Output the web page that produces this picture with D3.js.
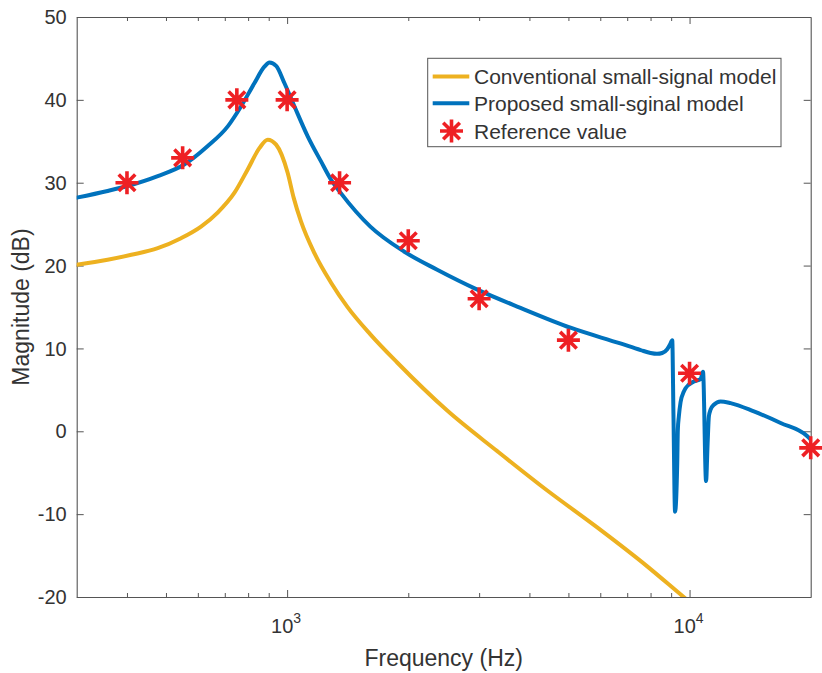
<!DOCTYPE html>
<html>
<head>
<meta charset="utf-8">
<script src="https://cdn.jsdelivr.net/npm/d3@7"></script>
<style>
  html, body { margin: 0; padding: 0; background: #fff; }
  svg { display: block; }
  text { font-family: "Liberation Sans", Arial, Helvetica, sans-serif; fill: #333; }
</style>
</head>
<body>
<svg id="chart" width="822" height="673"></svg>
<script>
// Conventional small-signal model: frequency (Hz) and magnitude (dB)
const convFreq = [300, 358, 410, 477, 545, 611, 672, 740, 798, 854, 895, 939, 1003, 1038, 1083, 1169, 1287, 1410, 1610, 1877, 2499, 3328, 4430, 5895, 7849, 9639, 10650];
const convMag  = [20.1, 20.7, 21.3, 22.1, 23.3, 24.7, 26.4, 28.8, 31.6, 34.2, 35.2, 34.6, 31.2, 28.2, 25.3, 21.5, 17.9, 15.05, 11.7, 8.3, 2.5, -2.4, -7.15, -11.6, -16.3, -19.95, -21.7];

// Proposed small-signal model
const propFreq = [300, 358, 401, 477, 555, 634, 712, 768, 829, 878, 904, 939, 985, 1043, 1125, 1213, 1288, 1357, 1610, 1951, 2360, 2969, 3800, 5060, 6730, 7560, 8000, 8300, 8550, 8800, 8950, 9057, 9120, 9204, 9320, 9352, 9406, 9498, 9679, 9773, 10250, 10650, 10800, 10990, 11088, 11170, 11276, 11490, 11940, 12645, 14450, 16840, 19620, 20000];
const propMag  = [28.2, 29.0, 29.6, 30.8, 32.2, 34.4, 36.8, 39.2, 42.0, 44.0, 44.5, 44.1, 42.0, 39.2, 35.6, 32.6, 30.3, 28.8, 24.7, 21.7, 19.5, 17.1, 14.9, 12.5, 10.6, 9.8, 9.45, 9.35, 9.45, 9.9, 10.5, 11.0, 2.0, -9.7, -3.8, 0.2, 1.8, 3.5, 4.8, 5.2, 6.0, 6.3, 7.2, -6.0, -1.5, 1.8, 2.6, 3.2, 3.6, 3.4, 2.4, 1.0, -0.6, -1.0];

// Reference (measured) values
const refFreq = [400, 550, 750, 1000, 1350, 2000, 3000, 5000, 10000, 20000];
const refMag  = [30, 33, 40, 40, 30, 23, 16, 11, 7, -2];

// Axis ticks
const yTicks = [-20, -10, 0, 10, 20, 30, 40, 50];
const xMajorTicks = [1000, 10000];
const xMajorLabels = ["3", "4"];
const xMinorTicks = [400, 500, 600, 700, 800, 900, 2000, 3000, 4000, 5000, 6000, 7000, 8000, 9000];

const seriesNames = ["Conventional small-signal model", "Proposed small-sginal model", "Reference value"];
const colors = { conv: "#EDB120", prop: "#0072BD", ref: "#EE2024", axis: "#555" };

const W = 822, H = 673;
const plot = { left: 76.7, top: 17, right: 810.7, bottom: 597 };

const svg = d3.select("#chart");

const x = d3.scaleLog().domain([300, 20000]).range([plot.left, plot.right]);
const y = d3.scaleLinear().domain([-20, 50]).range([plot.bottom, plot.top]);

svg.append("defs").append("clipPath").attr("id", "plotClip")
  .append("rect")
  .attr("x", plot.left).attr("y", plot.top)
  .attr("width", plot.right - plot.left).attr("height", plot.bottom - plot.top);

// Axes box with inward ticks (bottom/top and left/right)
const axisG = svg.append("g");
const majorLen = 7, minorLen = 4;

const bottomAxis = d3.axisBottom(x).tickValues(xMajorTicks).tickSizeInner(-majorLen).tickSizeOuter(0).tickFormat("");
const topAxis = d3.axisTop(x).tickValues(xMajorTicks).tickSizeInner(-majorLen).tickSizeOuter(0).tickFormat("");
const bottomMinor = d3.axisBottom(x).tickValues(xMinorTicks).tickSizeInner(-minorLen).tickSizeOuter(0).tickFormat("");
const topMinor = d3.axisTop(x).tickValues(xMinorTicks).tickSizeInner(-minorLen).tickSizeOuter(0).tickFormat("");
const leftAxis = d3.axisLeft(y).tickValues(yTicks).tickSizeInner(-majorLen).tickSizeOuter(0).tickFormat("");
const rightAxis = d3.axisRight(y).tickValues(yTicks).tickSizeInner(-majorLen).tickSizeOuter(0).tickFormat("");

axisG.append("g").attr("transform", `translate(0,${plot.bottom})`).call(bottomAxis);
axisG.append("g").attr("transform", `translate(0,${plot.bottom})`).call(bottomMinor);
axisG.append("g").attr("transform", `translate(0,${plot.top})`).call(topAxis);
axisG.append("g").attr("transform", `translate(0,${plot.top})`).call(topMinor);
axisG.append("g").attr("transform", `translate(${plot.left},0)`).call(leftAxis);
axisG.append("g").attr("transform", `translate(${plot.right},0)`).call(rightAxis);
axisG.selectAll("path.domain").attr("stroke", colors.axis).attr("stroke-width", 1.1);
axisG.selectAll(".tick line").attr("stroke", colors.axis).attr("stroke-width", 1);

// Tick labels
svg.append("g").selectAll("text.ylab").data(yTicks).join("text")
  .attr("x", plot.left - 10)
  .attr("y", d => y(d))
  .attr("dy", "0.36em")
  .attr("text-anchor", "end")
  .attr("font-size", 20)
  .text(d => d);

const xl = svg.append("g").selectAll("text.xlab").data(xMajorTicks).join("text")
  .attr("x", d => x(d) - 1)
  .attr("y", 633)
  .attr("text-anchor", "middle")
  .attr("font-size", 20);
xl.append("tspan").text("10");
xl.append("tspan").attr("dy", -10).attr("font-size", 14).text((d, i) => xMajorLabels[i]);

// Axis titles
svg.append("text")
  .attr("x", (plot.left + plot.right) / 2)
  .attr("y", 666)
  .attr("text-anchor", "middle")
  .attr("font-size", 23)
  .text("Frequency (Hz)");

svg.append("text")
  .attr("transform", `translate(29,${(plot.top + plot.bottom) / 2}) rotate(-90)`)
  .attr("text-anchor", "middle")
  .attr("font-size", 23)
  .text("Magnitude (dB)");

// Curves
const line = d3.line()
  .x(d => x(d[0]))
  .y(d => y(d[1]))
  .curve(d3.curveMonotoneX);

const curves = svg.append("g").attr("clip-path", "url(#plotClip)");
curves.append("path")
  .datum(d3.zip(convFreq, convMag))
  .attr("d", line)
  .attr("fill", "none")
  .attr("stroke", colors.conv)
  .attr("stroke-width", 4)
  .attr("stroke-linejoin", "round")
  .attr("stroke-linecap", "round");

curves.append("path")
  .datum(d3.zip(propFreq, propMag))
  .attr("d", line)
  .attr("fill", "none")
  .attr("stroke", colors.prop)
  .attr("stroke-width", 4)
  .attr("stroke-linejoin", "round")
  .attr("stroke-linecap", "round");

// Asterisk marker: plus + cross
function asterisk(g, r) {
  const d = r * 0.72;
  g.append("path")
    .attr("d", `M${-r},0H${r}M0,${-r}V${r}M${-d},${-d}L${d},${d}M${-d},${d}L${d},${-d}`)
    .attr("fill", "none")
    .attr("stroke", colors.ref)
    .attr("stroke-width", 3.6);
}

const markers = svg.append("g");
d3.zip(refFreq, refMag).forEach(([f, m]) => {
  const g = markers.append("g").attr("transform", `translate(${x(f)},${y(m)})`);
  asterisk(g, 11.5);
});

// Legend
const legend = svg.append("g");
const lg = { x0: 427.7, y0: 58.3, x1: 781, y1: 146.7 };
legend.append("rect")
  .attr("x", lg.x0).attr("y", lg.y0)
  .attr("width", lg.x1 - lg.x0).attr("height", lg.y1 - lg.y0)
  .attr("fill", "#fff")
  .attr("stroke", colors.axis)
  .attr("stroke-width", 1);

const rowY = [76.5, 103.3, 131];
legend.append("line")
  .attr("x1", 432.7).attr("x2", 469.3).attr("y1", rowY[0]).attr("y2", rowY[0])
  .attr("stroke", colors.conv).attr("stroke-width", 4);
legend.append("line")
  .attr("x1", 432.7).attr("x2", 469.3).attr("y1", rowY[1]).attr("y2", rowY[1])
  .attr("stroke", colors.prop).attr("stroke-width", 4);
asterisk(legend.append("g").attr("transform", `translate(451.5,${rowY[2]})`), 11.5);

legend.selectAll("text.leg").data(seriesNames).join("text")
  .attr("x", 474)
  .attr("y", (d, i) => rowY[i])
  .attr("dy", "0.36em")
  .attr("font-size", 21)
  .text(d => d);
</script>
</body>
</html>
